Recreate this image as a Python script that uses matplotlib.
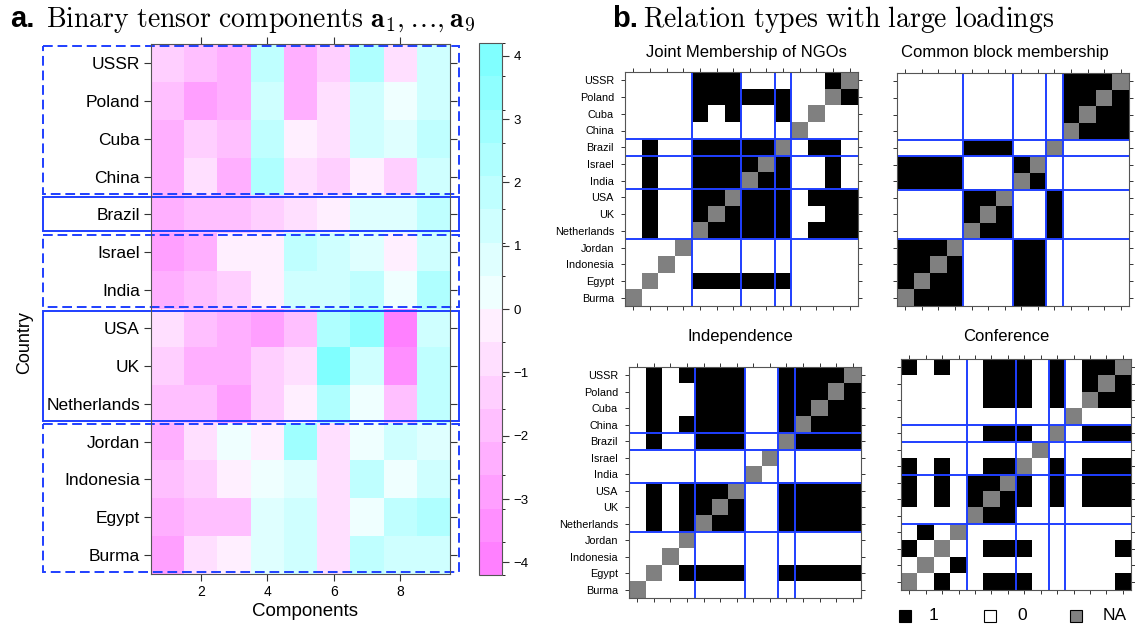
import numpy as np
import matplotlib
matplotlib.use("Agg")
import matplotlib.pyplot as plt
import matplotlib.transforms as mtransforms
from matplotlib.colors import ListedColormap, BoundaryNorm
from matplotlib.patches import Rectangle
from matplotlib.lines import Line2D

plt.rcParams['font.family'] = ['Liberation Sans', 'DejaVu Sans']
plt.rcParams['mathtext.fontset'] = 'cm'

COUNTRIES = ["USSR", "Poland", "Cuba", "China", "Brazil", "Israel", "India",
             "USA", "UK", "Netherlands", "Jordan", "Indonesia", "Egypt", "Burma"]
GROUP_SIZES = [4, 1, 2, 3, 4]
GROUP_DASHED = [True, False, True, False, True]

COMP_TICKS = [2, 4, 6, 8]
CBAR_TICKS = [-4, -3, -2, -1, 0, 1, 2, 3, 4]

# loadings of the 9 components, one row per country
LOADINGS = [
    [-1.3, -1.8, -2.3, 1.8, -2.3, -1.3, 2.3, -0.8, 1.3],   # USSR
    [-1.8, -2.8, -2.3, 1.3, -2.3, -0.8, 1.3, 0.3, 1.3],    # Poland
    [-2.3, -1.3, -1.8, 1.8, -0.3, -0.8, 1.3, 0.8, 1.8],    # Cuba
    [-2.3, -0.8, -2.3, 2.3, -0.8, -1.3, -0.3, -1.3, 1.3],  # China
    [-2.3, -1.8, -1.8, -1.3, -0.8, -0.3, 0.8, 0.8, 1.8],   # Brazil
    [-2.8, -2.3, -0.3, -0.3, 1.8, 1.3, 0.8, -0.3, 1.3],    # Israel
    [-2.3, -1.8, -1.3, -0.3, 1.3, 1.3, 1.8, 0.3, 2.3],     # India
    [-0.8, -1.8, -2.3, -2.8, -1.8, 2.3, 3.3, -3.8, 1.3],   # USA
    [-1.3, -2.3, -2.3, -1.3, -0.8, 3.8, 1.3, -3.3, 1.8],   # UK
    [-1.8, -1.8, -2.8, -1.3, -0.3, 2.3, 0.3, -1.8, 1.8],   # Netherlands
    [-2.3, -0.8, 0.3, -0.3, 2.8, -0.8, 0.3, 1.3, 0.8],     # Jordan
    [-1.8, -1.3, -0.3, 0.3, 0.8, -0.8, 1.8, 0.3, 1.3],     # Indonesia
    [-2.3, -1.8, -1.8, 0.8, 1.3, -0.8, 0.3, 1.8, 2.3],     # Egypt
    [-2.8, -0.8, -0.3, 0.8, 1.3, -0.8, 1.8, 1.3, 1.3],     # Burma
]

# relation matrices: rows = COUNTRIES, columns = COUNTRIES reversed
# '1' = tie, '0' = none, 'N' = NA
NGO = [
    "0000111000001N", "000011111100N1", "00001010010N00", "0000000000N000",
    "010011111N0110", "01001111N10010", "0100111N110010", "010011N1110111",
    "01001N11110011", "0100N111110111", "000N0000000000", "00N00000000000",
    "0N001111110000", "N0000000000000",
]
BLOCK = [
    "0000000000111N", "000000000011N1", "00000000001N11", "0000000000N111",
    "000011100N0000", "11110001N00000", "1111000N100000", "000011N0010000",
    "00001N10010000", "0000N110010000", "111N0001100000", "11N10001100000",
    "1N110001100000", "N1110001100000",
]
INDEP = [
    "0101111001111N", "010011100111N1", "01001110011N11", "0101111001N111",
    "010011100N1111", "00000000N00000", "0000000N000000", "010111N0011111",
    "01011N10011111", "0101N110011111", "000N0000000000", "00N00000000000",
    "0N011110011111", "N0000000000000",
]
CONF = [
    "1010011101011N", "000001110101N1", "00000111010N11", "0000000000N000",
    "000001110N0111", "00000000N00000", "1010011N010111", "101011N1010111",
    "10101N11010111", "0000N110000000", "010N0000000000", "10N00111000001",
    "0N010000000000", "N0100111000001",
]
LEGEND_LABELS = ["1", "0", "NA"]

W, H = 1135, 627
BLUE = '#1f3fff'
FRAME = '#555555'


def box(x0, y0, x1, y1):
    return [x0 / W, 1 - y1 / H, (x1 - x0) / W, (y1 - y0) / H]


fig = plt.figure(figsize=(W / 100, H / 100), dpi=100)

# colours like R's cm.colors(16): magenta for negative, cyan for positive
half = 8
sat = np.linspace(0.5, 0.5 / half, half)
colours = [(1, 1 - s, 1) for s in sat] + [(1 - s, 1, 1) for s in sat[::-1]]
cmap = ListedColormap(colours)
bounds = np.linspace(-4.2, 4.2, 2 * half + 1)
norm = BoundaryNorm(bounds, cmap.N)

# ---- panel a ----
n = len(COUNTRIES)
vals = np.array(LOADINGS)
ax = fig.add_axes(box(151, 44, 450, 574))
mesh = ax.pcolormesh(np.arange(0.5, vals.shape[1] + 1), np.arange(-0.5, n),
                     vals, cmap=cmap, norm=norm)
ax.set_xlim(0.5, vals.shape[1] + 0.5)
ax.set_ylim(n - 0.5, -0.5)
ax.set_yticks(range(n))
ax.set_yticklabels(COUNTRIES, fontsize=12.5)
ax.set_xticks(COMP_TICKS)
ax.tick_params(direction='out', top=True, right=True, length=5, width=0.8,
               color='#333333', pad=3)
ax.tick_params(axis='x', labelsize=10)
for sp in ax.spines.values():
    sp.set_color(FRAME)

trans = mtransforms.blended_transform_factory(ax.transAxes, ax.transData)
start = 0
for size, dashed in zip(GROUP_SIZES, GROUP_DASHED):
    ls = (0, (5, 2.5)) if dashed else '-'
    ax.add_patch(Rectangle((-0.36, start - 0.45), 1.39, size - 0.1, transform=trans,
                           fill=False, edgecolor=BLUE, lw=1.4, ls=ls, clip_on=False))
    start += size

fig.text(25 / W, 1 - 343 / H, 'Country', rotation=90, ha='center', va='center', fontsize=13)
fig.text(305 / W, 1 - 612 / H, 'Components', ha='center', va='center', fontsize=13.5)

cax = fig.add_axes(box(479, 43, 502, 575))
cb = fig.colorbar(mesh, cax=cax, ticks=CBAR_TICKS)
cb.outline.set_edgecolor(FRAME)
cax.tick_params(labelsize=9.5, length=5, width=0.8, color='#333333')

fig.text(10 / W, 1 - 27 / H, 'a.', fontsize=21, fontweight='bold', va='baseline')
fig.text(46 / W, 1 - 27 / H,
         r'$\mathrm{Binary\ tensor\ components}\ \mathbf{a}_1,\ldots,\mathbf{a}_9$',
         fontsize=20, va='baseline')

# ---- panel b ----
fig.text(612 / W, 1 - 27 / H, 'b.', fontsize=21, fontweight='bold', va='baseline')
fig.text(643 / W, 1 - 27 / H, r'$\mathrm{Relation\ types\ with\ large\ loadings}$',
         fontsize=20, va='baseline')

rel_cmap = ListedColormap(['white', 'black', '#808080'])
code = {'0': 0, '1': 1, 'N': 2}
bounds_rows = np.cumsum(GROUP_SIZES)[:-1] - 0.5
bounds_cols = n - np.cumsum(GROUP_SIZES)[:-1] - 0.5


def relation(rect, rows, title, tx, ty, labels):
    a = fig.add_axes(box(*rect))
    mat = np.array([[code[c] for c in r] for r in rows])
    a.imshow(mat, cmap=rel_cmap, vmin=0, vmax=2, interpolation='nearest', aspect='auto')
    for b in bounds_rows:
        a.axhline(b, color=BLUE, lw=1.4)
    for b in bounds_cols:
        a.axvline(b, color=BLUE, lw=1.4)
    a.set_xticks(range(n))
    a.set_yticks(range(n))
    a.set_xticklabels([])
    if labels:
        a.set_yticklabels(COUNTRIES, fontsize=7.8)
    else:
        a.set_yticklabels([])
    a.tick_params(direction='out', top=True, right=True, length=3, width=0.7,
                  color='#333333', pad=5)
    for sp in a.spines.values():
        sp.set_color(FRAME)
    fig.text(tx / W, 1 - ty / H, title, ha='center', va='baseline', fontsize=12)


relation((625, 72, 858, 306), NGO, 'Joint Membership of NGOs', 746, 57, True)
relation((897, 73, 1129, 306), BLOCK, 'Common block membership', 1005, 57, False)
relation((629, 367, 861, 598), INDEP, 'Independence', 740, 341, True)
relation((901, 359, 1131, 590), CONF, 'Conference', 1006, 341, False)

# legend
for mx, face, label, lx in zip([905, 990, 1076], ['black', 'white', '#808080'],
                               LEGEND_LABELS, [933, 1022, 1115]):
    fig.add_artist(Line2D([mx / W], [1 - 616 / H], marker='s', ms=8, mfc=face,
                          mec='black', mew=0.8, transform=fig.transFigure))
    fig.text(lx / W, 1 - 616 / H, label, ha='center', va='center', fontsize=12.5)

fig.savefig('out.png', dpi=100)
